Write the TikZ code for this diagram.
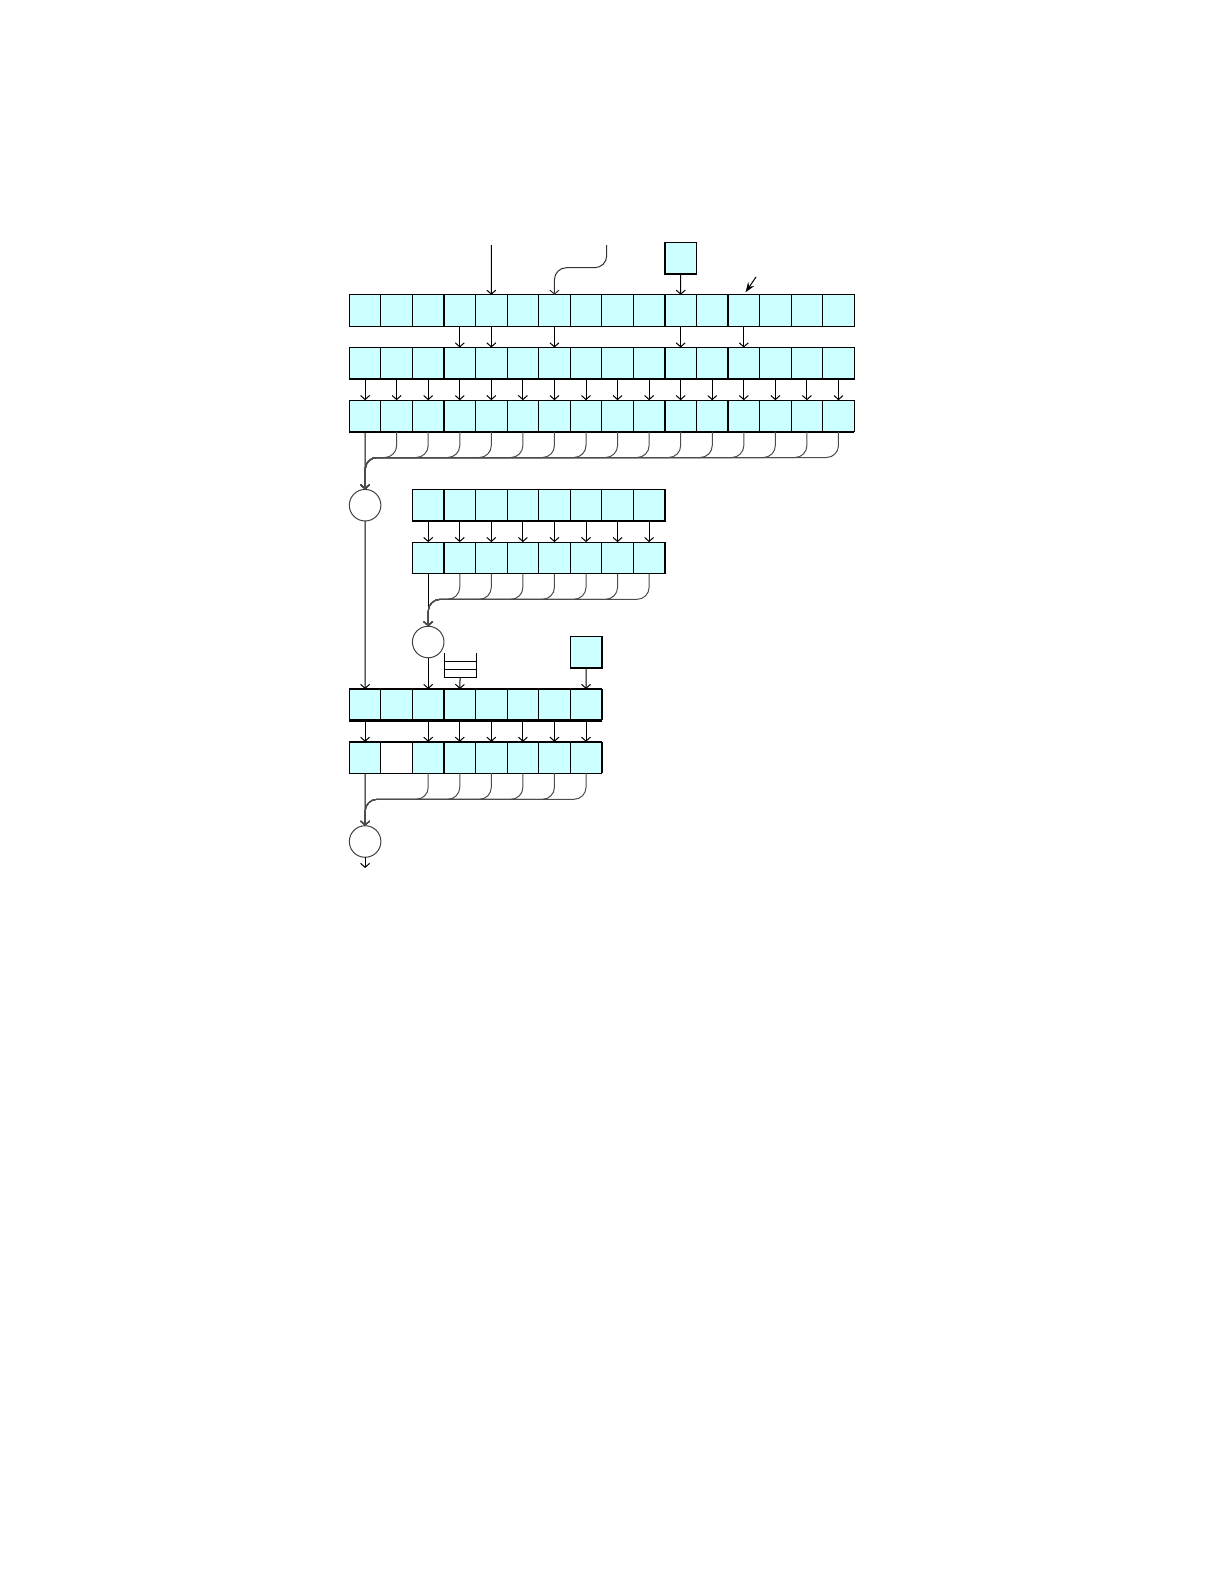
\documentclass[tikz,border=0pt]{standalone}
\usetikzlibrary{arrows.meta}
\definecolor{cellc}{RGB}{204,255,255}
\begin{document}
\begin{tikzpicture}[x=0.5pt,y=-0.5pt,
  cell/.style={draw, line width=0.6pt, fill=cellc, minimum width=15.78pt, minimum height=15.7pt, inner sep=0pt, outer sep=0pt},
  wcell/.style={cell, fill=white},
  ring/.style={circle, draw=black!75, line width=0.5pt, minimum size=15.78pt, inner sep=0pt, outer sep=0pt},
  arr/.style={-{Straight Barb[length=2pt,width=4.5pt]}, line width=0.5pt},
  merge/.style={draw=black!70, line width=0.45pt, rounded corners=6pt},
  thickedge/.style={line width=1.1pt},
]
\useasboundingbox (0,0) rectangle (1224,1584);

% rows 1-3 (16 cells)
\foreach \i in {1,...,16} {
  \pgfmathsetmacro\xx{349.3+31.56*(\i-0.5)}
  \node[cell] (a\i) at (\xx,310.5) {};
  \node[cell] (b\i) at (\xx,363.2) {};
  \node[cell] (c\i) at (\xx,415.9) {};
}
% rows 4-5 (cells 3..10)
\foreach \i in {3,...,10} {
  \pgfmathsetmacro\xx{349.3+31.56*(\i-0.5)}
  \node[cell] (d\i) at (\xx,505.2) {};
  \node[cell] (e\i) at (\xx,557.8) {};
}
% rows 6-7 (cells 1..8)
\foreach \i in {1,...,8} {
  \pgfmathsetmacro\xx{349.3+31.56*(\i-0.5)}
  \node[cell] (f\i) at (\xx,704.7) {};
}
\foreach \i in {1,3,4,5,6,7,8} {
  \pgfmathsetmacro\xx{349.3+31.56*(\i-0.5)}
  \node[cell] (g\i) at (\xx,757.5) {};
}
\node[wcell] (g2) at (396.64,757.5) {};

% thick edges
\draw[thickedge] (c1.south west) -- (c16.south east);
\draw[thickedge] (f1.south west) -- (f8.south east);
\draw[thickedge] (g1.north west) -- (g8.north east);
\draw[thickedge] (f8.north east) -- (f8.south east);
\draw[thickedge] (g8.north east) -- (g8.south east);

% circles
\node[ring] (o1) at (365.1,505.2) {};
\node[ring] (o2) at (428.2,642) {};
\node[ring] (o3) at (365.1,841.5) {};

% single boxes
\node[cell] (t1) at (680.7,258.3) {};
\node[cell] (t2) at (586.2,652.2) {};

% inputs to row 1
\coordinate (in1) at (491.3,245);
\draw[arr] (in1) -- (a5.north);
\coordinate (in2) at (606.7,245);
\coordinate (w1) at (606.7,267.7);
\draw[arr, draw=black!80, rounded corners=6pt] (in2) -- (w1) -- (w1 -| a7.north) -- (a7.north);
\draw[arr] (t1.south) -- (a11.north);
\coordinate (in3) at (756,277);
\draw[-{Stealth[length=5pt,width=3.6pt]}, line width=0.5pt, shorten >=1.5pt] (in3) -- (a13.north);

% row 1 -> row 2
\foreach \i in {4,5,7,11,13} \draw[arr] (a\i.south) -- (b\i.north);
% row 2 -> row 3
\foreach \i in {1,...,16} \draw[arr] (b\i.south) -- (c\i.north);

% merge row 3 -> circle 1
\coordinate (bus1) at (0,457.5);
\draw[arr] (c1.south) -- (o1.north);
\foreach \i in {2,...,16} \draw[merge,arr] (c\i.south) -- (c\i.south |- bus1) -- (o1.north |- bus1) -- (o1.north);

% row 4 -> row 5
\foreach \i in {3,...,10} \draw[arr] (d\i.south) -- (e\i.north);
% merge row 5 -> circle 2
\coordinate (bus2) at (0,599.3);
\draw[arr] (e3.south) -- (o2.north);
\foreach \i in {4,...,10} \draw[merge,arr] (e\i.south) -- (e\i.south |- bus2) -- (o2.north |- bus2) -- (o2.north);

% stack symbol
\coordinate (sk) at (460.1,677.3);
\draw[line width=0.5pt] (444.3,653.3) -- (444.3,677.3) -- (476,677.3) -- (476,653.3);
\draw[line width=0.5pt] (444.3,661.7) -- (476,661.7);
\draw[line width=0.5pt] (444.3,669.3) -- (476,669.3);

% inputs to row 6
\draw[arr] (o1.south) -- (f1.north);
\draw[arr] (o2.south) -- (f3.north);
\draw[arr] (sk) -- (f4.north);
\draw[arr] (t2.south) -- (f8.north);

% row 6 -> row 7
\foreach \i in {1,3,4,5,6,7,8} \draw[arr] (f\i.south) -- (g\i.north);
% merge row 7 -> circle 3
\coordinate (bus3) at (0,799.3);
\draw[arr] (g1.south) -- (o3.north);
\foreach \i in {3,...,8} \draw[merge,arr] (g\i.south) -- (g\i.south |- bus3) -- (o3.north |- bus3) -- (o3.north);

% output
\coordinate (out) at (365.1,868);
\draw[arr] (o3.south) -- (out);
\end{tikzpicture}
\end{document}
